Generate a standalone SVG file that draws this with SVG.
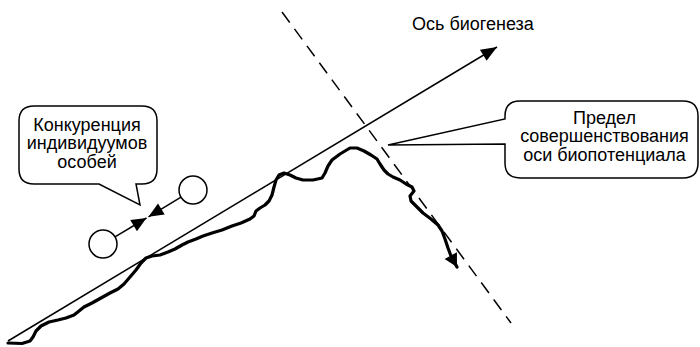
<svg xmlns="http://www.w3.org/2000/svg" width="700" height="347" viewBox="0 0 700 347">
<style>
  .txt { font-family: "Liberation Sans", Arial, sans-serif; font-size: 18px; fill: #000; }
  .mid { text-anchor: middle; }
  .callout { fill: #fff; stroke: #000; stroke-width: 1.5; stroke-linejoin: miter; }
  .thin { fill: none; stroke: #000; stroke-width: 1.5; }
  .dash { fill: none; stroke: #000; stroke-width: 1.5; stroke-dasharray: 13 8; }
  .wave { fill: none; stroke: #000; stroke-width: 3.2; stroke-linejoin: round; stroke-linecap: round; }
  .circ { fill: #fff; stroke: #000; stroke-width: 1.5; }
</style>
<defs>
  <marker id="arrowBig" markerUnits="userSpaceOnUse" markerWidth="20" markerHeight="20" refX="0" refY="0" orient="auto" overflow="visible">
    <path d="M0,0 L-16,-6.5 L-16,6.5 Z" fill="#000"/>
  </marker>
  <marker id="arrowSmall" markerUnits="userSpaceOnUse" markerWidth="20" markerHeight="20" refX="0" refY="0" orient="auto" overflow="visible">
    <path d="M0,0 L-15,-6.5 L-15,6.5 Z" fill="#000"/>
  </marker>
  <marker id="arrowWave" markerUnits="userSpaceOnUse" markerWidth="20" markerHeight="20" refX="0" refY="0" orient="auto" overflow="visible">
    <path d="M0,0 L-13,-7 L-13,7 Z" fill="#000"/>
  </marker>
</defs>

<g id="connectors">
  <line id="axis" class="thin" x1="8" y1="341" x2="497" y2="47" marker-end="url(#arrowBig)"/>
  <line id="limit" class="dash" x1="282" y1="12" x2="511" y2="323"/>
  <path id="wave" class="wave" marker-end="url(#arrowWave)" d="M8,343 L22,343.5 L30,341 L33,337 L36,331 L41,326 L49,322 L58,320 L66,318 L74,315 L79,311 L84,307 L92,303 L101,298 L110,293 L118,289 L124,284 L130,277 L136,270 L141,263 L146,258 L152,256 L160,255 L168,252 L175,249 L182,245 L188,242 L196,239 L203,236 L212,233 L222,230 L232,226 L241,223 L250,219 L254,216 L256,211 L260,208 L265,205 L269,201 L272,195 L274,187 L276,180 L279,175 L284,173 L290,175 L296,178 L303,180 L313,180 L322,178 L325,173 L328,166 L332,160 L340,154 L350,148 L357,148 L364,151 L371,155 L377,159 L380,164 L384,170 L388,174 L393,177 L400,180 L406,184 L412,187 L414,191 L410,196 L411,201 L416,206 L423,213 L431,219 L438,225 L442,231 L445,239 L448,248 L451,256 L457,267"/>
  <line id="arrow-left" class="thin" x1="115" y1="236.8" x2="146.5" y2="218" marker-end="url(#arrowSmall)"/>
  <line id="arrow-right" class="thin" x1="181" y1="197.2" x2="148.5" y2="216.8" marker-end="url(#arrowSmall)"/>
</g>

<g id="label-axis">
  <text class="txt" x="412" y="29.5">Ось биогенеза</text>
</g>

<g id="circle-left">
  <circle class="circ" cx="103" cy="244" r="14"/>
</g>
<g id="circle-right">
  <circle class="circ" cx="193" cy="190" r="14"/>
</g>

<g id="callout-left">
  <path class="callout" d="M34,106 H142 Q157,106 157,121 V169 Q157,184 142,184 H136 L140,205 L99,184 H34 Q19,184 19,169 V121 Q19,106 34,106 Z"/>
  <text class="txt mid" x="87" y="130.5">Конкуренция</text>
  <text class="txt mid" x="87" y="149">индивидуумов</text>
  <text class="txt mid" x="87" y="167.5">особей</text>
</g>

<g id="callout-right">
  <path class="callout" d="M520,101 H683 Q698,101 698,116 V163 Q698,178 683,178 H520 Q505,178 505,163 V144 L388,145 L505,119 V116 Q505,101 520,101 Z"/>
  <text class="txt mid" x="604.5" y="123.5">Предел</text>
  <text class="txt mid" x="604.5" y="142">совершенствования</text>
  <text class="txt mid" x="604.5" y="160.5">оси биопотенциала</text>
</g>
</svg>
